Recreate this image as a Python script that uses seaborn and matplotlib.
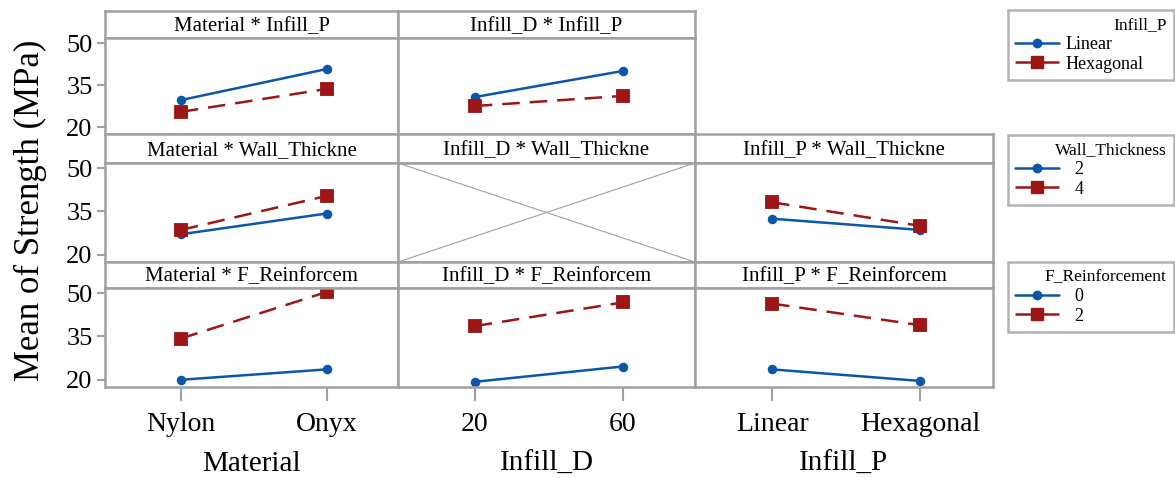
import pandas as pd
import matplotlib.pyplot as plt
import seaborn as sns
from matplotlib.lines import Line2D

# factor levels
material = ["Nylon", "Onyx"]
infill_d = ["20", "60"]
infill_p = ["Linear", "Hexagonal"]
wall = ["2", "4"]
f_reinf = ["0", "2"]

# means of strength (MPa)
mat_infp = {"Linear": [29.6, 40.7], "Hexagonal": [25.4, 33.6]}
infd_infp = {"Linear": [30.7, 40.0], "Hexagonal": [27.5, 31.1]}
mat_wall = {"2": [27.1, 34.3], "4": [28.6, 40.4]}
infp_wall = {"2": [32.5, 28.6], "4": [38.2, 30.0]}
mat_fr = {"0": [20.0, 23.6], "2": [34.3, 50.4]}
infd_fr = {"0": [19.3, 24.6], "2": [38.6, 46.8]}
infp_fr = {"0": [23.6, 19.6], "2": [46.4, 38.9]}

col_levels = [material, infill_d, infill_p]
col_names = ["Material", "Infill_D", "Infill_P"]
row_hue = [("Infill_P", infill_p), ("Wall_Thickness", wall), ("F_Reinforcement", f_reinf)]

panels = {
    (0, 0): ("Material * Infill_P", mat_infp),
    (0, 1): ("Infill_D * Infill_P", infd_infp),
    (1, 0): ("Material * Wall_Thickne", mat_wall),
    (1, 1): ("Infill_D * Wall_Thickne", None),
    (1, 2): ("Infill_P * Wall_Thickne", infp_wall),
    (2, 0): ("Material * F_Reinforcem", mat_fr),
    (2, 1): ("Infill_D * F_Reinforcem", infd_fr),
    (2, 2): ("Infill_P * F_Reinforcem", infp_fr),
}

sns.set_style("white")
plt.rcParams["font.family"] = ["Liberation Serif", "DejaVu Serif"]
plt.rcParams["text.color"] = "black"
plt.rcParams["xtick.labelcolor"] = "black"
plt.rcParams["ytick.labelcolor"] = "black"
plt.rcParams["axes.labelcolor"] = "black"

BLUE = "#0A56A8"
RED = "#9C1616"
GRAY = "#A0A0A0"
styles = [dict(color=BLUE, marker="o", ms=5.5, dashes=None),
          dict(color=RED, marker="s", ms=8.5, dashes=(7, 4))]

W, H = 1175, 478
fig = plt.figure(figsize=(W / 100, H / 100), dpi=100)

def fx(x):
    return x / W

def fy(y):
    return 1 - y / H

col_edges = [105, 398, 695, 993]
strip_top = [11, 134, 262]
plot_top = [38, 163, 288]
plot_bot = [134, 262, 387]

for (r, c), (title, vals) in panels.items():
    x0, x1 = col_edges[c], col_edges[c + 1]
    # strip box
    sax = fig.add_axes([fx(x0), fy(plot_top[r]), fx(x1 - x0), (plot_top[r] - strip_top[r]) / H])
    sax.set_xticks([])
    sax.set_yticks([])
    for s in sax.spines.values():
        s.set_color(GRAY)
        s.set_linewidth(1.8)
    sax.text(0.5, 0.42, title, ha="center", va="center", fontsize=15, transform=sax.transAxes)

    ax = fig.add_axes([fx(x0), fy(plot_bot[r]), fx(x1 - x0), (plot_bot[r] - plot_top[r]) / H])
    levels = col_levels[c]
    hue_name, hue_levels = row_hue[r]
    if vals is not None:
        for i, lev in enumerate(hue_levels):
            df = pd.DataFrame({"x": levels, "y": vals[lev]})
            st = styles[i]
            sns.pointplot(data=df, x="x", y="y", order=levels, color=st["color"],
                          markers=st["marker"], errorbar=None, ax=ax,
                          markersize=st["ms"], linewidth=1.8)
            if st["dashes"]:
                ax.lines[-1].set_dashes(st["dashes"])
    else:
        ax.plot([0, 1], [0, 1], color=GRAY, lw=0.8, transform=ax.transAxes)
        ax.plot([0, 1], [1, 0], color=GRAY, lw=0.8, transform=ax.transAxes)
        ax.set_xticks([0, 1])
    ax.set_xlim(-0.52, 1.49)
    ax.set_ylim(17.5, 51.8)
    ax.set_yticks([20, 35, 50])
    ax.set_xlabel("")
    ax.set_ylabel("")
    for s in ax.spines.values():
        s.set_color(GRAY)
        s.set_linewidth(1.8)
    ax.tick_params(axis="y", direction="out", length=6, color=GRAY, width=1.5,
                   labelsize=19, left=(c == 0), labelleft=(c == 0), pad=3)
    ax.tick_params(axis="x", direction="out", length=10, color=GRAY, width=1.5,
                   labelsize=20, bottom=(r == 2), labelbottom=(r == 2), pad=8)
    if r == 2:
        ax.set_xticklabels(levels)
        ax.set_xlabel(col_names[c], fontsize=21, labelpad=10)

fig.text(fx(30), fy(210), "Mean of Strength (MPa)", rotation=90, ha="center", va="center", fontsize=25)

# legends
leg_tops = [10, 135, 262]
for r, (hue_name, hue_levels) in enumerate(row_hue):
    handles = []
    for i, lev in enumerate(hue_levels):
        st = styles[i]
        h = Line2D([], [], color=st["color"], marker=st["marker"], markersize=st["ms"] * 1.1, lw=1.8)
        if st["dashes"]:
            h.set_dashes(st["dashes"])
        handles.append(h)
    labels = hue_levels if r == 0 else ["  " + l for l in hue_levels]
    leg = fig.legend(handles, labels, title=hue_name, loc="upper left",
                     bbox_to_anchor=(fx(1008), fy(leg_tops[r]), fx(166), 0.0),
                     mode="expand", alignment="right", frameon=True, fancybox=False,
                     edgecolor=GRAY, fontsize=13, title_fontsize=12.5,
                     handlelength=2.4, handletextpad=0.4, labelspacing=0.15,
                     borderpad=0.4, borderaxespad=0)
    leg.get_frame().set_linewidth(1.8)

fig.savefig("out.png", dpi=100)
